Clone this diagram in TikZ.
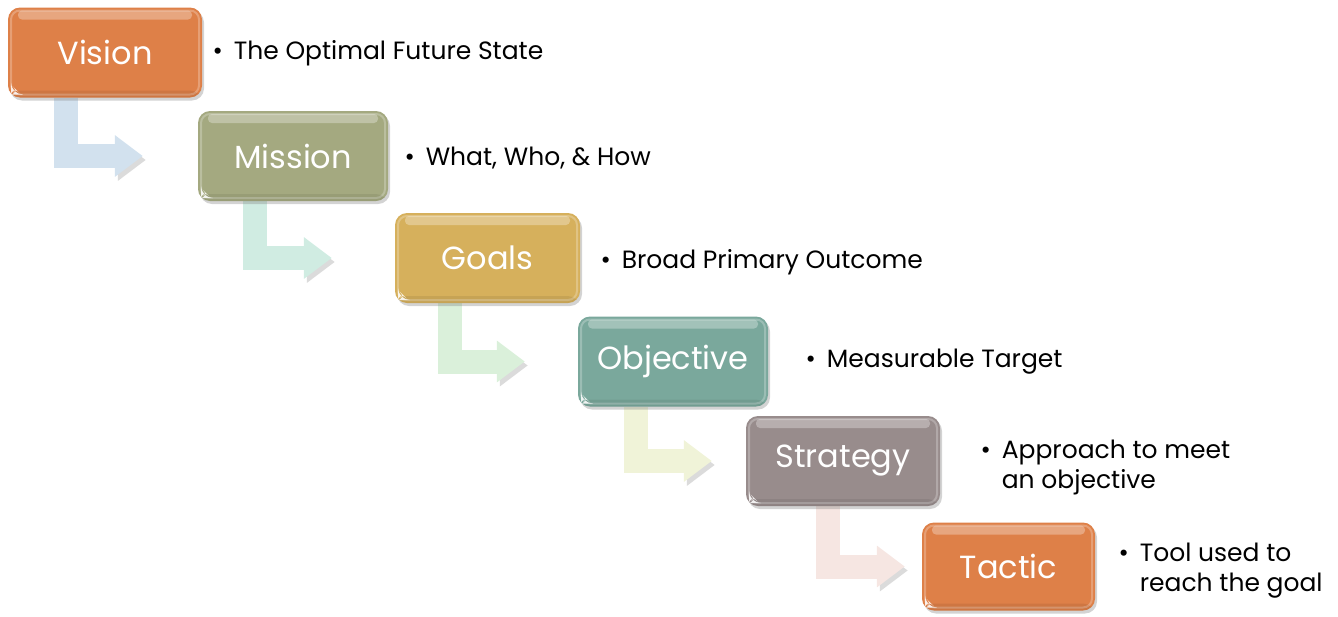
\documentclass[tikz,border=0pt]{standalone}
\usepackage{fontspec}
\setmainfont{Poppins}
\usetikzlibrary{arrows.meta, positioning, shadows, backgrounds}

\definecolor{visionc}{RGB}{222,128,72}
\definecolor{missionc}{RGB}{164,169,128}
\definecolor{goalsc}{RGB}{214,176,92}
\definecolor{objectivec}{RGB}{122,168,156}
\definecolor{strategyc}{RGB}{152,140,140}
\definecolor{tacticc}{RGB}{222,128,72}
\definecolor{flowa}{RGB}{210,225,238}
\definecolor{flowb}{RGB}{208,236,226}
\definecolor{flowc}{RGB}{218,240,218}
\definecolor{flowd}{RGB}{240,243,216}
\definecolor{flowe}{RGB}{246,230,226}

% bullet with the lines hanging after it
\newcommand{\bulletnote}[1]{\textbullet\hspace{11pt}\begin{tabular}[t]{@{}l@{}}#1\end{tabular}}

\begin{document}
\begin{tikzpicture}[
    x=1pt, y=-1pt,
    level/.style = {rectangle, rounded corners=12pt, fill=#1, text=white,
        minimum height=90pt, font=\fontsize{32}{32}\selectfont,
        drop shadow={shadow xshift=2pt, shadow yshift=-3pt, opacity=0.35},
        path picture={
            \fill[white, opacity=0.3, rounded corners=4pt]
                ([shift={(10pt,-3pt)}]path picture bounding box.north west) rectangle
                ([shift={(-10pt,-12pt)}]path picture bounding box.north east);
            \draw[white, opacity=0.25, line width=2pt, rounded corners=9pt]
                ([shift={(3pt,-3pt)}]path picture bounding box.north west) rectangle
                ([shift={(-3pt,3pt)}]path picture bounding box.south east);
            \fill[black, opacity=0.07]
                ([yshift=7pt]path picture bounding box.south west) rectangle
                (path picture bounding box.south east);
            \fill[white, opacity=0.85]
                ([shift={(3pt,3pt)}]path picture bounding box.south west)
                -- ++(10pt,0pt) -- ++(-10pt,10pt) -- cycle;
        }},
    flow/.style = {draw=#1, line width=24pt,
        -{Triangle[width=40pt, length=28pt]},
        preaction={draw=black!14, transform canvas={shift={(3pt,-4pt)}}}},
    note/.style = {anchor=base west, font=\fontsize{25}{30}\selectfont}
]
    \useasboundingbox (0,0) rectangle (1338,616);

    % the six levels
    \node [level=visionc, minimum width=194pt] (vision) at (105,52.5) {Vision};
    \node [level=missionc, minimum width=190pt] (mission) at (293,156) {Mission};
    \node [level=goalsc, minimum width=185pt] (goals) at (487.5,258) {Goals};
    \node [level=objectivec, minimum width=190pt] (objective) at (673,361.5) {Objective};
    \node [level=strategyc, minimum width=194pt] (strategy) at (843,461) {Strategy};
    \node [level=tacticc, minimum width=173pt, minimum height=88pt] (tactic) at (1008.5,566.5) {Tactic};

    % bent arrows, kept behind the boxes
    \begin{scope}[on background layer]
    \draw [flow=flowa] ([xshift=58.5pt]vision.south west) |- ([xshift=-55pt]mission.west);
    \draw [flow=flowb] ([xshift=57.5pt]mission.south west) |- ([xshift=-63pt]goals.west);
    \draw [flow=flowc] ([xshift=55pt]goals.south west) |- ([xshift=-53pt]objective.west);
    \draw [flow=flowd] ([xshift=58.5pt]objective.south west) |- ([xshift=-34pt]strategy.west);
    \draw [flow=flowe] ([xshift=82pt]strategy.south west) |- ([xshift=-17pt]tactic.west);
    \end{scope}

    % descriptions
    \node [note] (visionnote) at (209,59) {\bulletnote{The Optimal Future State}};
    \node [note] (missionnote) at (401,165) {\bulletnote{What, Who, \& How}};
    \node [note] (goalsnote) at (597,268) {\bulletnote{Broad Primary Outcome}};
    \node [note] (objectivenote) at (802,367) {\bulletnote{Measurable Target}};
    \node [note] (strategynote) at (977,458) {\bulletnote{Approach to meet\\an objective}};
    \node [note] (tacticnote) at (1115,561) {\bulletnote{Tool used to\\reach the goal}};
\end{tikzpicture}
\end{document}
